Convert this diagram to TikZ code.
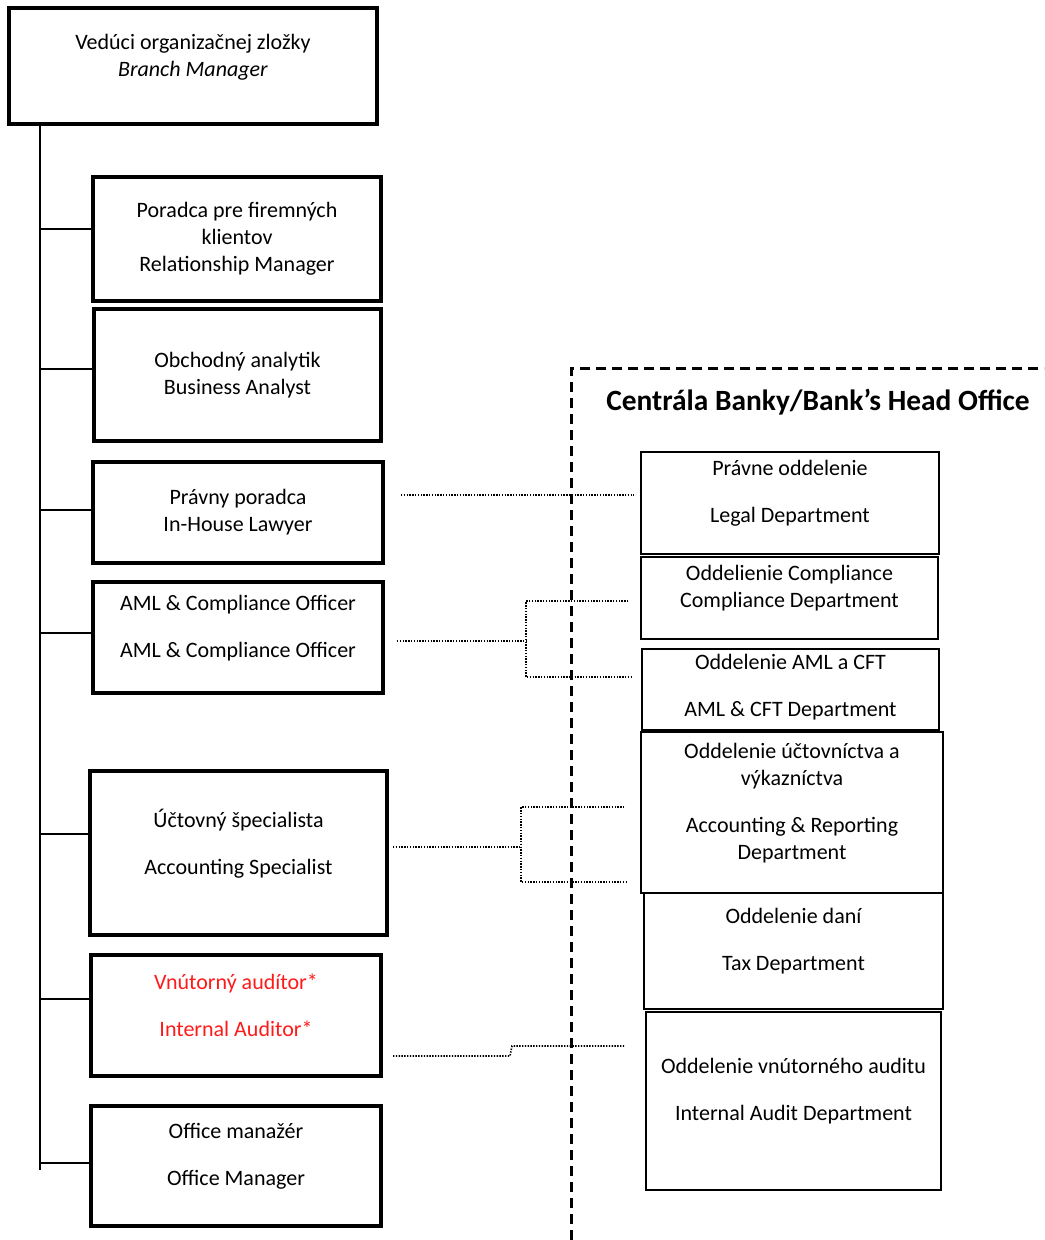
\documentclass[tikz,border=0pt]{standalone}
\usepackage{fontspec}
\setmainfont{Carlito}
\usepackage{tikz}
\definecolor{ink}{HTML}{000000}
\definecolor{audit}{HTML}{FF1A1A}
\tikzset{
  boss/.style={draw=ink, line width=2pt, inner sep=0pt},
  post/.style={draw=ink, line width=1.7pt, inner sep=0pt},
  dept/.style={draw=ink, line width=0.7pt, inner sep=0pt},
  trunk/.style={draw=ink, line width=1.2pt},
  link/.style={draw=ink, line width=0.8pt, dash pattern=on 0.7pt off 0.7pt},
  hoframe/.style={draw=ink, line width=1.5pt, dash pattern=on 5pt off 3pt},
  txt/.style={align=center, font=\fontsize{11}{13.5}\selectfont, inner sep=0pt},
  hotitle/.style={font=\fontsize{14.7}{17}\selectfont\bfseries, inner sep=0pt},
}

\begin{document}
\begin{tikzpicture}[x=0.5pt,y=-0.5pt]
  \useasboundingbox (0,0) rectangle (1044,1240);

  % branch manager and the trunk
  \node[boss, minimum width=184pt, minimum height=58pt] (top) at (193,66) {};
  \node[txt] (top-t) at (193,57.5) {Vedúci organizačnej zložky\\\textit{Branch Manager}};
  \coordinate (trunkend) at (40,1170);
  \draw[trunk] (top.south -| trunkend) -- (trunkend);

  % branch staff
  \foreach \n/\x/\y/\w/\h/\ty/\k/\c/\t in {
    rm/237/239/288/124/239/229/ink/{Poradca pre firemných\\klientov\\Relationship Manager},
    ba/237.5/375/287/132/375/369/ink/{Obchodný analytik\\Business Analyst},
    law/238/512.5/290/101/512/510/ink/{Právny poradca\\In-House Lawyer},
    aml/238/637.5/290/111/628.5/633/ink/{AML \& Compliance Officer\\[10pt]AML \& Compliance Officer},
    acc/238.5/853/297/164/843.5/834/ink/{Účtovný špecialista\\[10pt]Accounting Specialist},
    aud/236/1015.5/290/121/1005.5/999/audit/{Vnútorný audítor*\\[10pt]Internal Auditor*},
    off/236/1166/290/120/1156.5/1163/ink/{Office manažér\\[10pt]Office Manager}}{
    \node[post, minimum width=\w*0.5pt, minimum height=\h*0.5pt] (\n) at (\x,\y) {};
    \node[txt, text=\c] (\n-t) at (\x,\ty) {\t};
    \draw[trunk] (trunkend |- 0,\k) -- (\n.west |- 0,\k);
  }

  % head office
  \coordinate (ho-sw) at (571,1240);
  \coordinate (ho-nw) at (571,369);
  \coordinate (ho-ne) at (1044,369);
  \draw[hoframe] (ho-sw) -- (ho-nw) -- (ho-ne);
  \node[hotitle] (ho) at (818,402) {Centrála Banky/Bank’s Head Office};

  \foreach \n/\x/\y/\w/\h/\ty/\t in {
    legal/790/503/298/102/493.5/{Právne oddelenie\\[10pt]Legal Department},
    comp/789.5/598/297/82/588/{Oddelienie Compliance\\Compliance Department},
    cft/790.5/689.5/297/81/687.5/{Oddelenie AML a CFT\\[10pt]AML \& CFT Department},
    accr/792/812.5/302/161/803.5/{Oddelenie účtovníctva a\\výkazníctva\\[10pt]Accounting \& Reporting\\Department},
    tax/793.5/951/299/116/941.5/{Oddelenie daní\\[10pt]Tax Department},
    ia/793.5/1101/295/178/1091.5/{Oddelenie vnútorného auditu\\[10pt]Internal Audit Department}}{
    \node[dept, minimum width=\w*0.5pt, minimum height=\h*0.5pt] (\n) at (\x,\y) {};
    \node[txt] (\n-t) at (\x,\ty) {\t};
  }

  % dotted reporting lines
  \coordinate (lawL) at (401,495);
  \coordinate (amlL) at (397,641);
  \coordinate (amlJ) at (526,641);
  \coordinate (accL) at (393,847);
  \coordinate (accJ) at (521,847);
  \coordinate (audL) at (393,1056);
  \coordinate (audJ) at (510,1056);
  \coordinate (audK) at (512,1046);

  \draw[link] (lawL) -- ([xshift=-3pt]legal.west |- lawL);
  \draw[link] (amlL) -- (amlJ);
  \draw[link] ([xshift=-6pt]comp.west |- 0,601) -| (amlJ |- 0,601) -- (amlJ |- 0,677) -- ([xshift=-5pt]cft.west |- 0,677);
  \draw[link] (accL) -- (accJ);
  \draw[link] ([xshift=-8pt]accr.west |- 0,807) -| (accJ |- 0,807) -- (accJ |- 0,882) -- ([xshift=-7pt]accr.west |- 0,882);
  \draw[link] (audL) -- (audJ) -- (audK) -- ([xshift=-10pt]ia.west |- audK);
\end{tikzpicture}
\end{document}
